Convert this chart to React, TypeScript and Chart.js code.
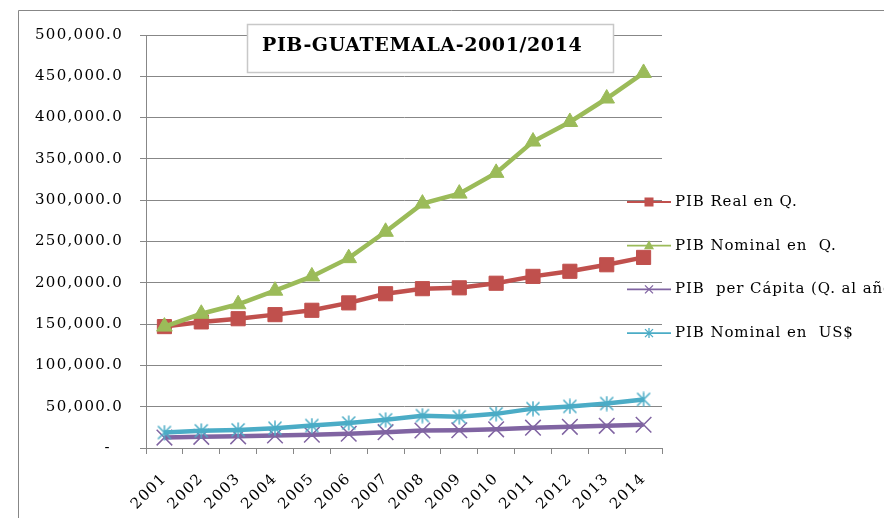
import React, { useEffect, useRef } from 'react';
import { Chart, registerables } from 'chart.js';

Chart.register(...registerables);

// ---------- data ----------
const years = ['2001', '2002', '2003', '2004', '2005', '2006', '2007', '2008', '2009', '2010', '2011', '2012', '2013', '2014'];
const pibReal = [146978, 152661, 156525, 161458, 166722, 175691, 186769, 192894, 193909, 199474, 207776, 213947, 221857, 230734];
const pibNominalQ = [146978, 162507, 174044, 190440, 207729, 229836, 261760, 295871, 307967, 333093, 371012, 394723, 423098, 454052];
const pibPerCapita = [12600, 13500, 14100, 15100, 16000, 17300, 19200, 21200, 21500, 22600, 24600, 25600, 26800, 28100];
const pibNominalUSD = [18703, 20777, 21918, 23965, 27211, 30231, 34113, 39136, 37734, 41338, 47655, 50388, 53851, 58827];
const seriesNames = ['PIB Real en Q.', 'PIB Nominal en  Q.', 'PIB  per Cápita (Q. al año)', 'PIB Nominal en  US$'];
const chartTitle = 'PIB-GUATEMALA-2001/2014';
const yMin = 0;
const yMax = 500000;
const yStep = 50000;

// ---------- style ----------
const FONT = 'DejaVu Serif';
const GRID = '#878787';
const RED = '#C0504D';
const GREEN = '#9BBB59';
const PURPLE = '#8064A2';
const BLUE = '#4BACC6';
const SPACING = '1.3px';

function fmt(v: number): string {
  if (v === 0) return '-  ';
  const s = v.toFixed(1);
  const [i, d] = s.split('.');
  return i.replace(/\B(?=(\d{3})+(?!\d))/g, ',') + '.' + d;
}

function makeStar(size: number, color: string, lw: number): HTMLCanvasElement {
  const c = document.createElement('canvas');
  c.width = size;
  c.height = size;
  const g = c.getContext('2d')!;
  g.strokeStyle = color;
  g.lineWidth = lw;
  const m = size / 2;
  const p = 1.5;
  g.beginPath();
  g.moveTo(m, 0.5);
  g.lineTo(m, size - 0.5);
  g.moveTo(p, p);
  g.lineTo(size - p, size - p);
  g.moveTo(size - p, p);
  g.lineTo(p, size - p);
  g.stroke();
  return c;
}

function drawMarker(ctx: CanvasRenderingContext2D, kind: string, x: number, y: number, color: string) {
  ctx.save();
  ctx.fillStyle = color;
  ctx.strokeStyle = color;
  if (kind === 'rect') {
    ctx.fillRect(x - 4.5, y - 4.5, 9, 9);
  } else if (kind === 'triangle') {
    ctx.beginPath();
    ctx.moveTo(x, y - 5.5);
    ctx.lineTo(x + 5, y + 3.5);
    ctx.lineTo(x - 5, y + 3.5);
    ctx.closePath();
    ctx.fill();
  } else if (kind === 'x') {
    ctx.lineWidth = 1.3;
    ctx.beginPath();
    ctx.moveTo(x - 4, y - 4);
    ctx.lineTo(x + 4, y + 4);
    ctx.moveTo(x + 4, y - 4);
    ctx.lineTo(x - 4, y + 4);
    ctx.stroke();
  } else if (kind === 'star') {
    ctx.lineWidth = 1.3;
    ctx.beginPath();
    ctx.moveTo(x, y - 5);
    ctx.lineTo(x, y + 5);
    ctx.moveTo(x - 4, y - 4);
    ctx.lineTo(x + 4, y + 4);
    ctx.moveTo(x + 4, y - 4);
    ctx.lineTo(x - 4, y + 4);
    ctx.stroke();
  }
  ctx.restore();
}

const spacingPlugin = {
  id: 'spacing',
  beforeUpdate(chart: any) {
    chart.ctx.letterSpacing = SPACING;
  },
  beforeDraw(chart: any) {
    const ctx = chart.ctx as CanvasRenderingContext2D;
    (ctx as any).letterSpacing = SPACING;
    // outer frame
    ctx.save();
    ctx.strokeStyle = GRID;
    ctx.lineWidth = 1;
    ctx.beginPath();
    ctx.moveTo(18.5, chart.height + 5);
    ctx.lineTo(18.5, 10.5);
    ctx.lineTo(chart.width + 5, 10.5);
    ctx.stroke();
    ctx.restore();
  },
  afterDraw(chart: any) {
    const ctx = chart.ctx as CanvasRenderingContext2D;
    const area = chart.chartArea;
    // title box
    ctx.save();
    const bx = area.left + 101;
    const by = 24;
    ctx.fillStyle = '#ffffff';
    ctx.fillRect(bx + 0.5, by + 0.5, 366, 48);
    ctx.strokeStyle = '#c8c8c8';
    ctx.lineWidth = 1.5;
    ctx.strokeRect(bx + 0.5, by + 0.5, 366, 48);
    ctx.fillStyle = '#000';
    ctx.font = `bold 19px "${FONT}"`;
    (ctx as any).letterSpacing = '0.6px';
    ctx.textAlign = 'left';
    ctx.textBaseline = 'middle';
    ctx.fillText(chartTitle, bx + 15, by + 22);
    ctx.restore();

    // legend
    ctx.save();
    (ctx as any).letterSpacing = '0.9px';
    const x0 = area.right - 35;
    const x1 = area.right + 9;
    const tx = area.right + 13;
    const y0 = 202;
    const dy = 43.7;
    const kinds = ['rect', 'triangle', 'x', 'star'];
    chart.data.datasets.forEach((ds: any, i: number) => {
      const y = y0 + dy * i;
      ctx.strokeStyle = ds.borderColor;
      ctx.lineWidth = 1.8;
      ctx.beginPath();
      ctx.moveTo(x0, y);
      ctx.lineTo(x1, y);
      ctx.stroke();
      drawMarker(ctx, kinds[i], (x0 + x1) / 2, y, ds.borderColor);
      ctx.fillStyle = '#000';
      ctx.font = `15px "${FONT}"`;
      ctx.textAlign = 'left';
      ctx.textBaseline = 'middle';
      ctx.fillText(ds.label, tx, y);
    });
    ctx.restore();
  },
};

export default function App() {
  const ref = useRef<HTMLCanvasElement>(null);

  useEffect(() => {
    const canvas = ref.current!;
    const star = makeStar(16, BLUE, 1.5);
    const chart = new Chart(canvas, {
      type: 'line',
      data: {
        labels: years,
        datasets: [
          {
            label: seriesNames[0],
            data: pibReal,
            borderColor: RED,
            backgroundColor: RED,
            borderWidth: 4.5,
            pointStyle: 'rect',
            pointRadius: 10,
            pointBorderWidth: 1,
            order: 4,
          },
          {
            label: seriesNames[1],
            data: pibNominalQ,
            borderColor: GREEN,
            backgroundColor: GREEN,
            borderWidth: 4.5,
            pointStyle: 'triangle',
            pointRadius: 9,
            pointBorderWidth: 1,
            order: 3,
          },
          {
            label: seriesNames[2],
            data: pibPerCapita,
            borderColor: PURPLE,
            backgroundColor: PURPLE,
            borderWidth: 4.5,
            pointStyle: 'crossRot',
            pointRadius: 11,
            pointBorderWidth: 1.5,
            order: 2,
          },
          {
            label: seriesNames[3],
            data: pibNominalUSD,
            borderColor: BLUE,
            backgroundColor: BLUE,
            borderWidth: 4.5,
            pointStyle: star as any,
            pointRadius: 8,
            order: 1,
          },
        ],
      },
      options: {
        animation: false,
        responsive: false,
        layout: { padding: { left: 18, top: 35, right: 222, bottom: 0 } },
        elements: { line: { tension: 0 } },
        plugins: {
          legend: { display: false },
          title: { display: false },
          tooltip: { enabled: false },
        },
        scales: {
          x: {
            type: 'category',
            offset: true,
            grid: {
              display: true,
              drawOnChartArea: false,
              drawTicks: true,
              tickLength: 6,
              color: GRID,
              offset: true,
              lineWidth: 1,
            },
            border: { display: true, color: GRID, width: 1 },
            ticks: {
              autoSkip: false,
              maxRotation: 45,
              minRotation: 45,
              color: '#000',
              font: { family: FONT, size: 15 },
              padding: 16,
            },
            afterFit: (s: any) => {
              s.height = 70;
            },
          },
          y: {
            min: yMin,
            max: yMax,
            ticks: {
              stepSize: yStep,
              color: '#000',
              font: { family: FONT, size: 15 },
              padding: 17,
              callback: (v: any) => fmt(Number(v)),
            },
            grid: { color: GRID, tickLength: 6, drawTicks: true, lineWidth: 1 },
            border: { display: true, color: GRID, width: 1 },
            afterFit: (s: any) => {
              s.width = 128;
            },
          },
        },
      },
      plugins: [spacingPlugin],
    } as any);
    return () => chart.destroy();
  }, []);

  return (
    <div style={{ position: 'absolute', left: 0, top: 0, width: 884, height: 518, background: '#fff', overflow: 'hidden' }}>
      <canvas ref={ref} width={884} height={518} style={{ display: 'block', width: 884, height: 518 }} />
    </div>
  );
}
